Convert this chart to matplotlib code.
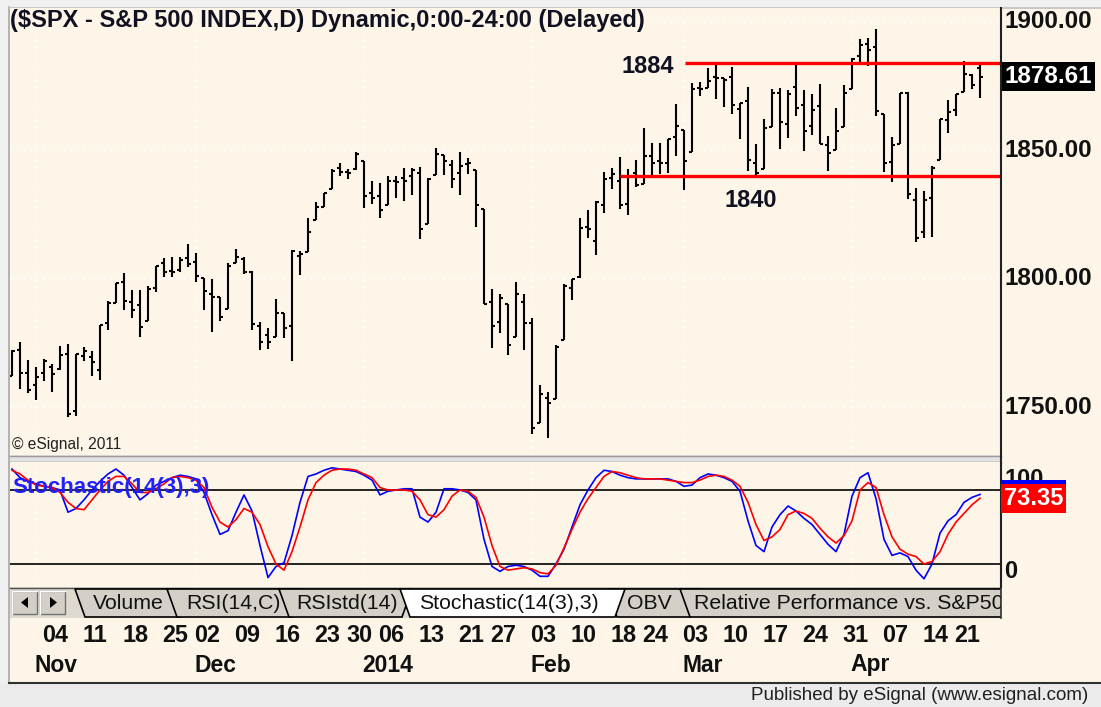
import matplotlib
matplotlib.use('Agg')
import matplotlib.pyplot as plt
from matplotlib.patches import Rectangle, Polygon
from matplotlib.transforms import blended_transform_factory

plt.rcParams['font.family'] = ['Liberation Sans', 'DejaVu Sans']

# daily bars, 29 Oct 2013 .. 24 Apr 2014
opens = [1762.0, 1772.3, 1763.2, 1758.7, 1763.4, 1765.7, 1765.0, 1770.7, 1748.4, 1770.0,
         1769.5, 1764.4, 1782.8, 1790.7, 1798.8, 1790.8, 1789.6, 1783.5, 1796.2, 1806.3,
         1802.9, 1803.5, 1808.0, 1806.6, 1800.1, 1794.1, 1792.8, 1788.4, 1806.2, 1807.6,
         1802.8, 1781.7, 1778.0, 1777.5, 1786.5, 1781.5, 1809.0, 1810.4, 1822.9, 1828.0,
         1835.0, 1843.0, 1841.5, 1842.6, 1845.9, 1833.2, 1832.3, 1828.7, 1837.9, 1839.0,
         1840.1, 1841.3, 1821.4, 1840.5, 1848.0, 1844.2, 1841.1, 1844.7, 1842.3, 1827.0,
         1791.0, 1783.0, 1790.2, 1777.2, 1790.9, 1782.7, 1743.8, 1753.4, 1753.0, 1776.0,
         1796.2, 1800.5, 1820.1, 1814.8, 1828.5, 1839.0, 1838.2, 1829.2, 1841.1, 1836.8,
         1847.7, 1845.8, 1844.9, 1855.1, 1857.7, 1849.2, 1874.1, 1874.2, 1878.5, 1877.9,
         1878.3, 1866.2, 1869.1, 1845.1, 1842.8, 1858.9, 1872.3, 1860.1, 1874.5, 1867.7,
         1859.5, 1867.1, 1852.1, 1850.1, 1859.2, 1874.0, 1886.6, 1891.4, 1890.3, 1863.9,
         1845.5, 1852.6, 1872.3, 1830.7, 1818.2, 1831.5, 1846.0, 1861.7, 1865.8, 1872.6,
         1879.3, 1882.0]
highs = [1772.1, 1775.2, 1768.5, 1765.7, 1768.8, 1767.0, 1773.7, 1774.5, 1770.8, 1773.4,
         1771.8, 1782.0, 1791.5, 1798.2, 1802.3, 1795.5, 1795.7, 1797.2, 1804.8, 1808.1,
         1808.4, 1808.3, 1813.6, 1810.0, 1800.1, 1799.8, 1792.8, 1806.0, 1811.5, 1808.5,
         1803.0, 1783.0, 1780.9, 1792.2, 1786.8, 1811.1, 1810.9, 1823.8, 1829.8, 1833.3,
         1842.8, 1844.9, 1842.5, 1849.4, 1845.9, 1838.2, 1837.2, 1840.1, 1840.0, 1843.2,
         1843.2, 1843.5, 1839.3, 1850.8, 1848.0, 1846.0, 1849.3, 1846.9, 1842.3, 1827.0,
         1796.0, 1793.9, 1790.2, 1798.8, 1793.9, 1784.8, 1758.7, 1755.8, 1774.1, 1798.0,
         1799.9, 1823.5, 1826.6, 1830.3, 1841.7, 1842.9, 1847.5, 1842.8, 1846.1, 1858.7,
         1852.9, 1852.7, 1854.5, 1867.9, 1857.7, 1876.2, 1876.5, 1881.9, 1883.6, 1877.9,
         1882.4, 1868.4, 1874.4, 1852.4, 1862.3, 1873.8, 1874.1, 1873.5, 1884.0, 1873.3,
         1871.9, 1875.9, 1855.6, 1866.6, 1875.2, 1885.8, 1893.2, 1893.8, 1897.3, 1864.0,
         1855.0, 1872.4, 1872.5, 1835.1, 1834.2, 1844.0, 1862.3, 1869.6, 1871.9, 1884.9,
         1879.8, 1884.1]
lows = [1762.0, 1757.2, 1755.7, 1752.7, 1760.0, 1755.8, 1764.4, 1746.2, 1746.6, 1767.9,
        1762.3, 1760.6, 1780.2, 1790.7, 1788.0, 1784.7, 1777.2, 1783.5, 1794.7, 1800.6,
        1800.8, 1802.8, 1804.6, 1798.6, 1787.9, 1779.1, 1783.4, 1788.4, 1806.2, 1801.8,
        1780.1, 1772.3, 1772.5, 1777.5, 1777.1, 1768.0, 1801.4, 1810.3, 1822.9, 1828.0,
        1835.0, 1839.8, 1838.8, 1842.4, 1827.7, 1829.1, 1823.7, 1828.7, 1831.4, 1830.4,
        1832.4, 1815.5, 1821.4, 1840.5, 1840.3, 1835.2, 1832.4, 1840.9, 1820.1, 1790.3,
        1772.9, 1779.0, 1770.5, 1777.2, 1772.3, 1739.7, 1743.8, 1737.9, 1753.0, 1776.0,
        1791.8, 1800.4, 1816.0, 1809.2, 1825.6, 1835.0, 1827.0, 1824.6, 1835.6, 1836.8,
        1840.2, 1840.7, 1841.1, 1847.7, 1834.4, 1849.2, 1871.1, 1874.2, 1870.1, 1867.0,
        1863.9, 1854.4, 1841.9, 1839.6, 1842.8, 1858.9, 1850.4, 1854.6, 1863.5, 1849.7,
        1856.0, 1852.6, 1842.1, 1850.1, 1859.2, 1874.0, 1883.8, 1882.7, 1863.3, 1841.5,
        1837.5, 1852.4, 1830.9, 1814.4, 1815.8, 1816.3, 1846.0, 1856.7, 1863.2, 1872.6,
        1873.9, 1870.2]
closes = [1771.9, 1763.3, 1756.5, 1761.6, 1767.9, 1763.0, 1770.5, 1747.2, 1770.6, 1771.9,
          1767.7, 1782.0, 1790.6, 1798.2, 1791.5, 1787.9, 1781.4, 1795.9, 1804.8, 1802.5,
          1802.8, 1807.2, 1805.8, 1800.9, 1795.2, 1792.8, 1785.0, 1805.1, 1808.4, 1802.6,
          1782.2, 1775.5, 1775.3, 1786.5, 1781.0, 1810.7, 1809.6, 1818.3, 1828.0, 1833.3,
          1842.0, 1841.4, 1841.1, 1848.4, 1832.0, 1831.4, 1826.8, 1837.9, 1837.5, 1838.1,
          1842.4, 1819.2, 1838.9, 1848.4, 1845.9, 1838.7, 1843.8, 1844.9, 1828.5, 1790.3,
          1781.6, 1792.5, 1774.2, 1794.2, 1782.6, 1741.9, 1755.2, 1751.6, 1773.4, 1797.0,
          1799.8, 1819.8, 1819.3, 1829.8, 1838.6, 1840.8, 1828.8, 1839.8, 1836.3, 1847.6,
          1845.1, 1845.2, 1854.3, 1859.5, 1845.7, 1873.9, 1873.8, 1877.0, 1878.0, 1877.2,
          1867.6, 1868.2, 1846.3, 1841.1, 1858.8, 1872.3, 1860.8, 1872.0, 1866.5, 1857.4,
          1865.6, 1852.6, 1849.0, 1857.6, 1872.3, 1885.5, 1890.9, 1888.8, 1865.1, 1845.0,
          1852.0, 1872.2, 1833.1, 1815.7, 1830.6, 1843.0, 1862.3, 1864.9, 1871.9, 1879.6,
          1875.4, 1878.61]

# Stochastic(14(3),3): %K (blue) and %D (red)
stoch_k = [97, 90, 87, 85, 83, 82, 80, 62, 65, 72, 80, 87, 93, 97, 92, 82, 72, 77, 84, 87,
           90, 92, 91, 89, 78, 60, 44, 47, 62, 76, 63, 35, 9, 18, 21, 43, 70, 91, 93, 96,
           98, 97, 96, 95, 92, 88, 76, 79, 80, 81, 81, 58, 54, 62, 81, 81, 80, 78, 72, 40,
           18, 14, 18, 19, 18, 15, 10, 10, 20, 32, 50, 68, 80, 90, 96, 95, 92, 90, 89, 89,
           89, 89, 89, 87, 83, 84, 90, 93, 92, 90, 87, 79, 55, 35, 30, 50, 60, 67, 63, 57,
           52, 44, 36, 30, 44, 75, 90, 94, 73, 40, 27, 29, 26, 15, 8, 20, 45, 55, 60, 70,
           74, 76.4]
stoch_d = [96, 93, 88, 84, 83, 82, 78, 70, 65, 64, 72, 80, 87, 91, 91, 85, 78, 78, 81, 85,
           90, 91, 90, 88, 82, 66, 54, 50, 56, 65, 62, 52, 34, 20, 15, 30, 50, 72, 86, 92,
           96, 97, 97, 96, 93, 90, 82, 80, 80, 80, 79, 72, 60, 58, 64, 75, 80, 79, 74, 58,
           35, 18, 15, 16, 17, 16, 13, 12, 19, 33, 48, 62, 73, 82, 91, 95, 94, 92, 90, 89,
           89, 89, 88, 87, 86, 86, 88, 91, 92, 91, 88, 83, 70, 52, 39, 42, 48, 60, 63, 61,
           57, 49, 42, 37, 43, 55, 80, 86, 82, 60, 42, 32, 28, 26, 20, 22, 30, 44, 54, 61,
           68, 73.35]

day_labels = ['04', '11', '18', '25', '02', '09', '16', '23', '30', '06', '13', '21', '27',
              '03', '10', '18', '24', '03', '10', '17', '24', '31', '07', '14', '21']
day_bars = [4, 9, 14, 19, 23, 28, 33, 38, 42, 46, 51, 56, 60, 65, 70, 75, 79, 84, 89, 94,
            99, 104, 109, 114, 118]
month_labels = ['Nov', 'Dec', '2014', 'Feb', 'Mar', 'Apr']
month_bars = [3, 23, 44, 65, 84, 105]

price_ticks = [1900, 1850, 1800, 1750]
resistance, support = 1884, 1840

tab_names = ['Volume', 'RSI(14,C)', 'RSIstd(14)', 'Stochastic(14(3),3)', 'OBV',
             'Relative Performance vs. S&P500']

W, H = 1101, 707
CREAM = '#fcf5e8'
n = len(closes)
idx = list(range(n))

fig = plt.figure(figsize=(W / 100, H / 100), dpi=100)
fig.patch.set_facecolor('#f0f0f0')

bg = fig.add_axes([0, 0, 1, 1], zorder=0)
bg.set_xlim(0, W)
bg.set_ylim(H, 0)
bg.axis('off')


def px_axes(x0, y0, x1, y1, z):
    return fig.add_axes([x0 / W, 1 - y1 / H, (x1 - x0) / W, (y1 - y0) / H], zorder=z)


# window background
bg.add_patch(Rectangle((9, 8), W - 9, 675, fc=CREAM, ec='none'))
bg.plot([9, 9], [7, 683], color='#a8a8a8', lw=1.2)
bg.plot([9, W], [7.5, 7.5], color='#c0c0c0', lw=1.2)
bg.add_patch(Rectangle((0, 684), W, 23, fc='#ebebeb', ec='none'))
bg.plot([9, W], [683, 683], color='#303030', lw=1.5)
bg.text(1088, 695, 'Published by eSignal (www.esignal.com)', ha='right', va='center',
        fontsize=13.5, color='#202020')

# splitter between panels
bg.add_patch(Rectangle((10, 455), 991, 7, fc='#e2e2e2', ec='none'))
bg.plot([10, 1001], [455.5, 455.5], color='#9a9a9a', lw=1)
bg.plot([10, 1001], [461.5, 461.5], color='#707070', lw=1)

# tab strip
bg.add_patch(Rectangle((10, 587), 991, 31, fc='#dedad0', ec='none'))
bg.plot([10, 1001], [587.5, 587.5], color='#505050', lw=1)
for bx in (12, 40):
    bg.add_patch(Rectangle((bx, 591), 25, 23, fc='#d4d0c8', ec='#707070', lw=1))
    bg.plot([bx, bx, bx + 25], [614, 591, 591], color='white', lw=1)
bg.add_patch(Polygon([(21, 602.5), (28, 597), (28, 608)], closed=True, fc='black'))
bg.add_patch(Polygon([(57, 602.5), (50, 597), (50, 608)], closed=True, fc='black'))

tab_left = [75, 167, 279, 400, 607, 680]
tab_right = [190, 302, 412, 625, 700, 1060]
tab_text_x = [93, 186, 296, 419, 627, 694]
order = [0, 1, 2, 4, 5, 3]
for k in order:
    active = k == 3
    pts = [(tab_left[k], 589), (tab_right[k], 589), (tab_right[k] - 10, 617),
           (tab_left[k] + 10, 617)]
    bg.add_patch(Polygon(pts, closed=True, fc='white' if active else '#d4d0c8',
                         ec='black', lw=1.2, zorder=3 + active))
    bg.text(tab_text_x[k], 603.5, tab_names[k], ha='left', va='center', fontsize=15.3,
            color='#111111', zorder=5)
bg.add_patch(Rectangle((1001, 586), 100, 33, fc=CREAM, ec='none', zorder=6))
bg.plot([1001, 1001], [587, 618], color='#303030', lw=1.2, zorder=7)

# price panel
ax = px_axes(10, 8, 1001, 455, 1)
ax.set_facecolor(CREAM)
ax.set_xlim(-0.25, 123.625)
ax.set_ylim(1731.4, 1905.33)
for s in ax.spines.values():
    s.set_visible(False)
ax.set_xticks([])
ax.set_yticks([])
for p in price_ticks:
    ax.axhline(p, color='white', ls=(0, (1, 3)), lw=1.2, zorder=1)
for m in month_bars:
    ax.axvline(m, color='white', ls=(0, (1, 3)), lw=1.2, zorder=1)

ax.vlines(idx, lows, highs, color='black', lw=1.5, zorder=3)
ax.hlines(opens, [i - 0.42 for i in idx], idx, color='black', lw=1.5, zorder=3)
ax.hlines(closes, idx, [i + 0.42 for i in idx], color='black', lw=1.5, zorder=3)

ax.hlines(resistance, 84.1, 123.625, color='#ff0000', lw=2.4, zorder=4)
ax.hlines(support, 76.0, 123.625, color='#ff0000', lw=2.4, zorder=4)
ax.text(76.2, resistance - 1.3, str(resistance), ha='left', va='center', fontsize=17,
        fontweight='bold', color='#111122')
ax.text(89.1, support - 9.5, str(support), ha='left', va='center', fontsize=17,
        fontweight='bold', color='#111122')

# stochastic panel
ax2 = px_axes(10, 462, 1001, 587, 1)
ax2.set_facecolor(CREAM)
ax2.set_xlim(-0.25, 123.625)
ax2.set_ylim(1.35, 102.7)
for s in ax2.spines.values():
    s.set_visible(False)
ax2.set_xticks([])
ax2.set_yticks([])
for m in month_bars:
    ax2.axvline(m, color='white', ls=(0, (1, 3)), lw=1.2, zorder=1)
ax2.axhline(80, color='black', lw=1.2, zorder=2)
ax2.axhline(20, color='black', lw=1.2, zorder=2)
ax2.plot(idx, stoch_k, color='#0000ff', lw=1.2, zorder=3)
ax2.plot(idx, stoch_d, color='#ff0000', lw=1.2, zorder=4)
ax2.text(0.002, 0.80, 'Stochastic(14(3),3)', transform=ax2.transAxes, ha='left',
         va='center', fontsize=16, fontweight='bold', color='#2020ff', zorder=5)

# overlay in pixel coordinates
top = fig.add_axes([0, 0, 1, 1], zorder=5)
top.set_xlim(0, W)
top.set_ylim(H, 0)
top.axis('off')
top.patch.set_alpha(0)
top.plot([1001, 1001], [8, 587], color='#202020', lw=1.5)
top.text(10, 20, '($SPX - S&P 500 INDEX,D) Dynamic,0:00-24:00 (Delayed)', ha='left',
         va='center', fontsize=17, fontweight='bold', color='#111122')
top.text(12, 445, '\u00a9 eSignal, 2011', ha='left', va='center', fontsize=11.2,
         color='#222222')

# right price scale
tr_price = blended_transform_factory(bg.transData, ax.transData)
for p in price_ticks:
    top.text(1004, p, f'{p:.2f}', transform=tr_price, ha='left', va='center',
             fontsize=17.5, fontweight='bold', color='#111111')
top.text(1005, closes[-1], f'{closes[-1]:.2f}', transform=tr_price, ha='left', va='center',
         fontsize=17.5, fontweight='bold', color='white',
         bbox=dict(boxstyle='square,pad=0.12', fc='black', ec='none'))

# right stochastic scale
top.text(1004, 480, '100', ha='left', va='center', fontsize=17, fontweight='bold',
         color='#111111')
top.text(1004, 571, '0', ha='left', va='center', fontsize=17, fontweight='bold',
         color='#111111')
tr_stoch = blended_transform_factory(bg.transData, ax2.transData)
top.text(1004, stoch_k[-1], f'{stoch_k[-1]:.2f}', transform=tr_stoch, ha='left',
         va='center', fontsize=17, fontweight='bold', color='white',
         bbox=dict(boxstyle='square,pad=0.12', fc='#0000ff', ec='none'))
top.text(1004, stoch_d[-1], f'{stoch_d[-1]:.2f}', transform=tr_stoch, ha='left',
         va='center', fontsize=17, fontweight='bold', color='white',
         bbox=dict(boxstyle='square,pad=0.12', fc='#ff0000', ec='none'))

# date axis
tr_date = blended_transform_factory(ax.transData, bg.transData)
for lab, b in zip(day_labels, day_bars):
    bg.text(b - 0.2, 636, lab, transform=tr_date, ha='left', va='center', fontsize=16.8,
            fontweight='bold', color='#111111')
for lab, b in zip(month_labels, month_bars):
    bg.text(b - 0.2, 665, lab, transform=tr_date, ha='left', va='center', fontsize=16.5,
            fontweight='bold', color='#111111')

fig.savefig('out.png', dpi=100, facecolor=fig.get_facecolor())
